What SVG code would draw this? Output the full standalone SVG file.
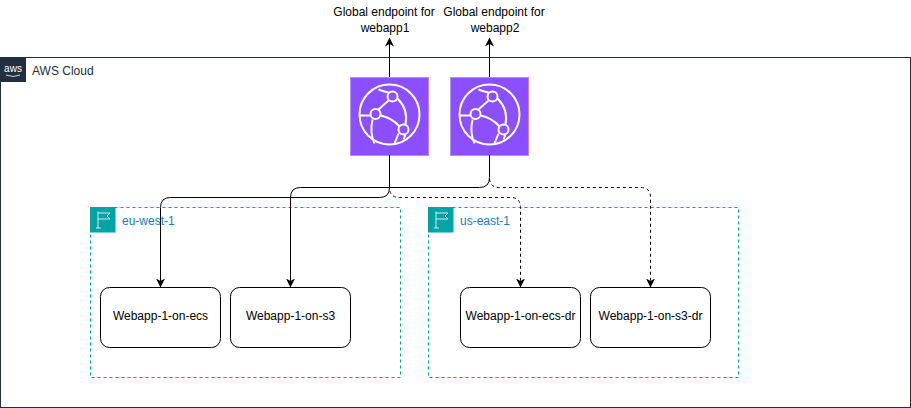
<svg xmlns="http://www.w3.org/2000/svg" width="911" height="408" viewBox="0 0 911 408">
<style>
text{font-family:"Liberation Sans",Arial,sans-serif;font-size:12px}
.c{fill:none;stroke:#000;stroke-width:1}
.d{stroke-dasharray:3 3}
.r{fill:none;stroke:#00a4a6;stroke-width:1;stroke-dasharray:3 3}
.n{fill:#fff;stroke:#000;stroke-width:1}
.m{text-anchor:middle;fill:#000}
.i{fill:none;stroke:#fff;stroke-width:2}
.l{fill:#147eba}
</style>
<defs>
<marker id="a" markerUnits="userSpaceOnUse" markerWidth="10" markerHeight="10" refX="8.5" refY="4.5" orient="auto"><path d="M0 0L9 4.5L0 9L2.5 4.5Z" fill="#000"/></marker>
<g id="cf">
<rect x="0" y="0" width="78" height="78" fill="#8c4fff" stroke="#b48cff" stroke-width="1"/>
<circle class="i" cx="39" cy="37" r="30"/>
<circle class="i" cx="42" cy="19" r="5"/>
<circle class="i" cx="25" cy="36.5" r="5"/>
<circle class="i" cx="53" cy="52" r="5"/>
<path class="i" d="M9 38H20M28 32L38 23M30 38Q41 40 49 49M47 21Q58 32 55 47M22 42Q19 55 24 66M28 12Q33 14 38 15M55 57L53 62M48 56L44 66"/>
</g>
<g id="flag">
<rect x="0" y="0" width="25.5" height="25.5" fill="#00a4a6"/>
<path d="M8 4.5V21M6 21H11M8 6H20L17 9L20 12H8" fill="none" stroke="#fff" stroke-width=".8"/>
</g>
</defs>
<g id="aws-cloud">
<rect x="0.5" y="57.5" width="910" height="350" fill="#fff" stroke="#232f3e" stroke-width="1"/>
<rect x="0" y="57" width="26" height="25" fill="#232f3e"/>
<text x="13" y="72" text-anchor="middle" style="font-size:10px" fill="#fff">aws</text>
<path d="M6 75Q13 78 20 75" fill="none" stroke="#fff" stroke-width=".8"/>
<text x="32" y="75" fill="#232f3e">AWS Cloud</text>
</g>
<g id="region-eu-west-1">
<rect class="r" x="90.5" y="207.5" width="310" height="170"/>
<use href="#flag" x="90" y="207"/>
<text class="l" x="122" y="225">eu-west-1</text>
</g>
<g id="region-us-east-1">
<rect class="r" x="428.5" y="207.5" width="310" height="170"/>
<use href="#flag" x="428" y="207"/>
<text class="l" x="460" y="225">us-east-1</text>
</g>
<g id="cloudfront-1"><use href="#cf" x="350.5" y="77.5"/></g>
<g id="cloudfront-2"><use href="#cf" x="450.5" y="77.5"/></g>
<g id="webapp-ecs"><rect class="n" x="100.5" y="287.5" width="120" height="60" rx="9"/><text class="m" x="160.5" y="320">Webapp-1-on-ecs</text></g>
<g id="webapp-s3"><rect class="n" x="230.5" y="287.5" width="120" height="60" rx="9"/><text class="m" x="290.5" y="320">Webapp-1-on-s3</text></g>
<g id="webapp-ecs-dr"><rect class="n" x="460.5" y="287.5" width="120" height="60" rx="9"/><text class="m" x="520.5" y="320">Webapp-1-on-ecs-dr</text></g>
<g id="webapp-s3-dr"><rect class="n" x="590.5" y="287.5" width="120" height="60" rx="9"/><text class="m" x="650.5" y="320">Webapp-1-on-s3-dr</text></g>
<g id="label-1"><text class="m" x="384" y="16">Global endpoint for</text><text class="m" x="385" y="32">webapp1</text></g>
<g id="label-2"><text class="m" x="494" y="16">Global endpoint for</text><text class="m" x="495" y="32">webapp2</text></g>
<g id="connectors">
<path class="c" marker-end="url(#a)" d="M389.5 77V38"/>
<path class="c" marker-end="url(#a)" d="M489.5 77V38"/>
<path class="c" marker-end="url(#a)" d="M389.5 155V187.5Q389.5 197.5 379.5 197.5H170.5Q160.5 197.5 160.5 207.5V287"/>
<path class="c" marker-end="url(#a)" d="M489.5 155V177.5Q489.5 187.5 479.5 187.5H300.5Q290.5 187.5 290.5 197.5V287"/>
<path class="c d" marker-end="url(#a)" d="M389.5 155V187.5Q389.5 197.5 399.5 197.5H510.5Q520.5 197.5 520.5 207.5V287"/>
<path class="c d" marker-end="url(#a)" d="M489.5 155V177.5Q489.5 187.5 499.5 187.5H640.5Q650.5 187.5 650.5 197.5V287"/>
</g>
</svg>
